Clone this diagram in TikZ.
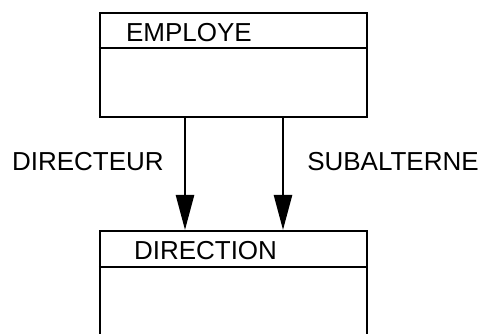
\documentclass[tikz,border=0pt]{standalone}
\usepackage{fontspec}
\setmainfont{Liberation Sans}
\usetikzlibrary{arrows.meta,positioning}

\begin{document}
\begin{tikzpicture}[x=1pt,y=1pt,line width=2.5pt,
    classbox/.style={draw, rectangle, minimum width=267pt, inner sep=0pt, anchor=north},
    classname/.style={font=\fontsize{26}{30}\selectfont, inner sep=0pt, anchor=base west},
    rolelabel/.style={font=\fontsize{26}{30}\selectfont, inner sep=0pt},
    link/.style={-{Triangle[length=35pt,width=18pt]}}]
        \path[use as bounding box, clip] (0,0) rectangle (483,334);
        % classes
        \node [classbox, minimum height=104pt] (employe) at (233.5,322) {};
        \node [classbox, minimum height=140pt] (direction) at (233.5,104) {};
        \draw ([yshift=-36pt]employe.north west) -- ([yshift=-36pt]employe.north east);
        \draw ([yshift=-37pt]direction.north west) -- ([yshift=-37pt]direction.north east);
        \node [classname] (employe name) at ([xshift=26pt,yshift=-30pt]employe.north west) {EMPLOYE};
        \node [classname] (direction name) at ([xshift=34pt,yshift=-30pt]direction.north west) {DIRECTION};
        % roles
        \draw [link] ([xshift=-48.5pt]employe.south) -- node [rolelabel, pos=0.39, left=20pt] (directeur) {DIRECTEUR} ([xshift=-48.5pt]direction.north);
        \draw [link] ([xshift=49.5pt]employe.south) -- node [rolelabel, pos=0.39, right=23pt] (subalterne) {SUBALTERNE} ([xshift=49.5pt]direction.north);
    \end{tikzpicture}
\end{document}
